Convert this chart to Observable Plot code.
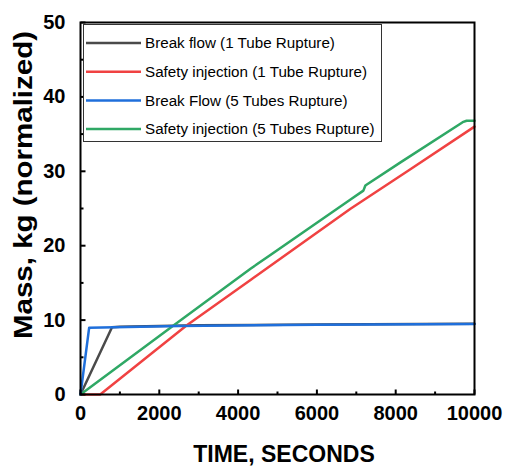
<!DOCTYPE html>
<html><head><meta charset="utf-8">
<script src="https://cdn.jsdelivr.net/npm/d3@7"></script>
<script src="https://cdn.jsdelivr.net/npm/@observablehq/plot@0.6"></script>
<style>body{margin:0;background:#fff} svg{display:block}</style>
</head><body><div id="chart"></div>
<script>
// ---- data ----
const seriesNames = [
  "Break flow (1 Tube Rupture)",
  "Safety injection (1 Tube Rupture)",
  "Break Flow (5 Tubes Rupture)",
  "Safety injection (5 Tubes Rupture)"
];
const seriesColors = ["#4a4a4a", "#f04242", "#1f6fdb", "#2fa865"];

const bf1Time = [0, 800, 1000, 3000, 6000, 10000];
const bf1Mass = [0, 9.05, 9.12, 9.3, 9.42, 9.52];

const si1Time = [0, 500, 2690, 4315, 6853, 8325, 10000];
const si1Mass = [0, 0, 9.27, 15.4, 24.96, 30.1, 36.0];

const bf5Time = [0, 220, 2500, 6000, 10000];
const bf5Mass = [0, 8.98, 9.22, 9.38, 9.48];

const si5Time = [0, 2360, 4315, 6853, 7180, 7230, 8122, 9700, 9800, 10000];
const si5Mass = [0, 9.27, 16.9, 26.2, 27.4, 28.1, 31.2, 36.6, 36.8, 36.8];

const xMajor = [0, 2000, 4000, 6000, 8000, 10000];
const xMinor = [1000, 3000, 5000, 7000, 9000];
const yMajor = [0, 10, 20, 30, 40, 50];
const yMinor = [5, 15, 25, 35, 45];

const xTitle = "TIME, SECONDS";
const yTitle = "Mass, kg (normalized)";

// ---- build tables ----
const toRows = (t, m) => t.map((d, i) => ({t: d, m: m[i]}));
const series = [
  {name: seriesNames[0], color: seriesColors[0], rows: toRows(bf1Time, bf1Mass)},
  {name: seriesNames[1], color: seriesColors[1], rows: toRows(si1Time, si1Mass)},
  {name: seriesNames[2], color: seriesColors[2], rows: toRows(bf5Time, bf5Mass)},
  {name: seriesNames[3], color: seriesColors[3], rows: toRows(si5Time, si5Mass)}
];
const drawOrder = [0, 1, 3, 2];

const W = 512, H = 466, mL = 80, mR = 38, mT = 22, mB = 72;
const fw = W - mL - mR, fh = H - mT - mB;
const xDom = [0, 10000], yDom = [0, 50];
const xPerPx = (xDom[1] - xDom[0]) / fw, yPerPx = (yDom[1] - yDom[0]) / fh;
const font = "'Liberation Sans', Arial, Helvetica, sans-serif";

const tickStyle = {stroke: "#000", strokeWidth: 2};
const chart = Plot.plot({
  width: W, height: H,
  marginLeft: mL, marginRight: mR, marginTop: mT, marginBottom: mB,
  style: {fontFamily: font, background: "#fff", color: "#000"},
  x: {domain: xDom},
  y: {domain: yDom},
  marks: [
    ...drawOrder.map(i => Plot.line(series[i].rows, {x: "t", y: "m", stroke: series[i].color, strokeWidth: 2.5, strokeLinejoin: "round"})),
    Plot.axisX(xMajor, {anchor: "bottom", tickSize: 0, tickPadding: 11, fontSize: 20, fontWeight: "bold", label: null, tickFormat: d3.format("d")}),
    Plot.axisY(yMajor, {anchor: "left", tickSize: 0, tickPadding: 15, fontSize: 20, fontWeight: "bold", label: null, tickFormat: d3.format("d")}),
    // inward tick marks
    Plot.link(xMajor, {x1: d => d, x2: d => d, y1: yDom[0], y2: yDom[0] + 5 * yPerPx, ...tickStyle}),
    Plot.link(xMinor, {x1: d => d, x2: d => d, y1: yDom[0], y2: yDom[0] + 3 * yPerPx, ...tickStyle}),
    Plot.link(yMajor, {y1: d => d, y2: d => d, x1: xDom[0], x2: xDom[0] + 5 * xPerPx, ...tickStyle}),
    Plot.link(yMinor, {y1: d => d, y2: d => d, x1: xDom[0], x2: xDom[0] + 3 * xPerPx, ...tickStyle}),
    Plot.frame({stroke: "#000", strokeWidth: 2})
  ]
});

const svg = d3.select(chart);
// axis titles
svg.append("text")
  .attr("x", (mL + W - mR) / 2 + 7).attr("y", 462)
  .attr("text-anchor", "middle")
  .attr("font-family", font).attr("font-weight", "bold").attr("font-size", 23)
  .attr("fill", "#000")
  .text(xTitle);
svg.append("text")
  .attr("transform", `translate(32,185) rotate(-90)`)
  .attr("text-anchor", "middle")
  .attr("font-family", font).attr("font-weight", "bold").attr("font-size", 25)
  .attr("textLength", 308).attr("lengthAdjust", "spacingAndGlyphs")
  .attr("fill", "#000")
  .text(yTitle);

// legend
const lg = svg.append("g");
lg.append("rect").attr("x", 83.5).attr("y", 24.5).attr("width", 298).attr("height", 117)
  .attr("fill", "#fff").attr("stroke", "#333").attr("stroke-width", 1);
seriesNames.forEach((name, i) => {
  const y = 43 + i * 28.7;
  lg.append("line").attr("x1", 86).attr("x2", 141).attr("y1", y).attr("y2", y)
    .attr("stroke", seriesColors[i]).attr("stroke-width", 2.5);
  lg.append("text").attr("x", 145).attr("y", y).attr("dy", "0.35em")
    .attr("text-anchor", "start")
    .attr("font-family", font).attr("font-size", 15.2).attr("fill", "#000")
    .text(name);
});

document.getElementById("chart").append(chart);
</script></body></html>
